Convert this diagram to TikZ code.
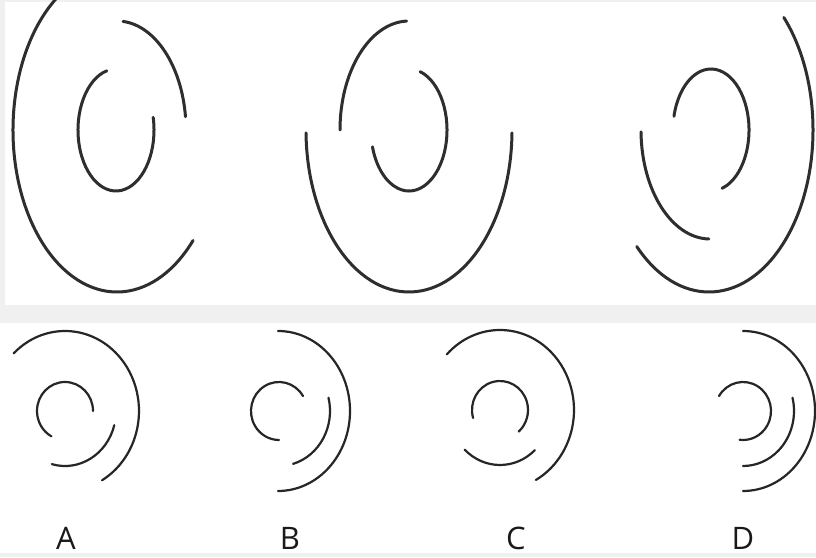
\documentclass[tikz,border=0pt]{standalone}
\usepackage{fontspec}
\setmainfont{Open Sans}
\begin{document}
\begin{tikzpicture}[x=1pt,y=1pt,
  topline/.style={line width=3pt,color=black!82,line cap=round},
  botline/.style={line width=2.2pt,color=black!85,line cap=round},
  lbl/.style={font=\fontsize{31}{32}\selectfont,text=black!90,inner sep=0pt}]
\useasboundingbox (0,0) rectangle (816,557);
\fill[gray!12] (0,0) rectangle (816,557);
\fill[white] (5,252) rectangle (816,555);
\fill[white] (0,4) rectangle (816,234);
% ---------- top row ----------
% figure 1
\draw[topline] (117,427) ++(124:104pt and 162pt) arc[start angle=124,end angle=317,x radius=104pt,y radius=162pt];
\draw[topline] (117,427) ++(85:69pt and 109pt) arc[start angle=85,end angle=7,x radius=69pt,y radius=109pt];
\draw[topline] (116,427) ++(104:38pt and 61pt) arc[start angle=104,end angle=372,x radius=38pt,y radius=61pt];
% figure 2
\draw[topline] (409,427) ++(181:103pt and 162pt) arc[start angle=181,end angle=359,x radius=103pt,y radius=162pt];
\draw[topline] (409,427) ++(92:69pt and 109pt) arc[start angle=92,end angle=180,x radius=69pt,y radius=109pt];
\draw[topline] (409,427) ++(73:38pt and 61pt) arc[start angle=73,end angle=-164,x radius=38pt,y radius=61pt];
% figure 3
\draw[topline] (709,427) ++(44:104pt and 162pt) arc[start angle=44,end angle=-134,x radius=104pt,y radius=162pt];
\draw[topline] (710,427) ++(181:69pt and 109pt) arc[start angle=181,end angle=269,x radius=69pt,y radius=109pt];
\draw[topline] (711,427) ++(167:38pt and 61pt) arc[start angle=167,end angle=-73,x radius=38pt,y radius=61pt];
% ---------- bottom row ----------
% A
\draw[botline] (65,146) ++(0:28pt and 29pt) arc[start angle=0,end angle=241,x radius=28pt,y radius=29pt];
\draw[botline] (65,146) ++(-15:51pt and 55pt) arc[start angle=-15,end angle=-105,x radius=51pt,y radius=55pt];
\draw[botline] (65,146) ++(134:74pt and 80pt) arc[start angle=134,end angle=-60,x radius=74pt,y radius=80pt];
% B
\draw[botline] (279,146) ++(31:28pt and 29pt) arc[start angle=31,end angle=270,x radius=28pt,y radius=29pt];
\draw[botline] (279,146) ++(14:51pt and 55pt) arc[start angle=14,end angle=-74,x radius=51pt,y radius=55pt];
\draw[botline] (278,146) ++(90:72pt and 80pt) arc[start angle=90,end angle=-90,x radius=72pt,y radius=80pt];
% C
\draw[botline] (500,147) ++(196:28pt and 29pt) arc[start angle=196,end angle=-48,x radius=28pt,y radius=29pt];
\draw[botline] (500,147) ++(226:51pt and 55pt) arc[start angle=226,end angle=313,x radius=51pt,y radius=55pt];
\draw[botline] (500,147) ++(136:74pt and 80pt) arc[start angle=136,end angle=-61,x radius=74pt,y radius=80pt];
% D
\draw[botline] (743,146) ++(149:28pt and 29pt) arc[start angle=149,end angle=-97,x radius=28pt,y radius=29pt];
\draw[botline] (743,146) ++(14:51pt and 55pt) arc[start angle=14,end angle=-90,x radius=51pt,y radius=55pt];
\draw[botline] (743,146) ++(90:72pt and 80pt) arc[start angle=90,end angle=-90,x radius=72pt,y radius=80pt];
% labels
\node[lbl] (la) at (66,19) {A};
\node[lbl] (lb) at (290,19) {B};
\node[lbl] (lc) at (516,19) {C};
\node[lbl] (ld) at (743,19) {D};
\end{tikzpicture}
\end{document}
